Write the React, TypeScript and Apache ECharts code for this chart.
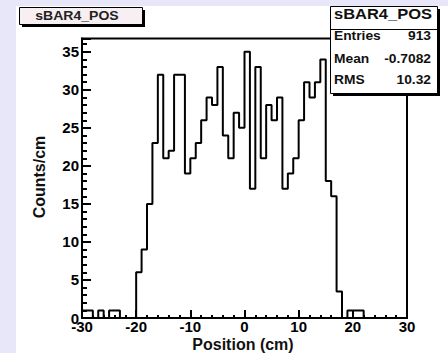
import { useEffect, useRef } from 'react';
import * as echarts from 'echarts';

// ---- data ----
const histName = 'sBAR4_POS';
const binLow = -30;
const binWidth = 1;
// counts per 1 cm bin, from -30 to +30
const counts = [
  1, 1, 0, 1, 0, 1, 1, 0, 0, 0,
  6, 9, 15, 23, 32, 21, 22, 32, 32, 19,
  21, 23, 26, 29, 28, 33, 24, 21, 27, 25,
  35, 17, 33, 21, 28, 26, 29, 17, 19, 21,
  26, 31, 29, 31, 34, 18, 16, 3.5, 0, 1,
  1, 1, 0, 0, 0, 0, 0, 0, 0, 0,
];
const xRange = [-30, 30];
const xTickStep = 10;
const yTickStep = 5;
const yMax = 36.75;
const statLabels = ['Entries', 'Mean', 'RMS'];
const statValues = ['913', '-0.7082', '10.32'];
const xTitle = 'Position (cm)';
const yTitle = 'Counts/cm';

const FONT = 'Liberation Sans, Arial, Helvetica, sans-serif';
const LAV = '#e7e7f9';

export default function App() {
  const ref = useRef<HTMLDivElement>(null);

  useEffect(() => {
    if (!ref.current) return;
    const chart = echarts.init(ref.current, undefined, { renderer: 'svg' });

    const stepPoints: number[][] = [[binLow, 0]];
    counts.forEach((c, i) => stepPoints.push([binLow + i * binWidth, c]));
    const xEnd = binLow + counts.length * binWidth;
    stepPoints.push([xEnd, counts[counts.length - 1]]);
    stepPoints.push([xEnd, 0]);

    const black = '#000';
    const statRowsY = [36, 59, 80];

    const graphic: any[] = [
      { type: 'rect', z: 200, shape: { x: 0, y: 0, width: 448, height: 6 }, style: { fill: LAV } },
      { type: 'rect', z: 200, shape: { x: 0, y: 0, width: 16, height: 353 }, style: { fill: LAV } },
      // title box
      { type: 'rect', z: 100, shape: { x: 22, y: 10, width: 123, height: 17 }, style: { fill: black } },
      { type: 'rect', z: 101, shape: { x: 19.5, y: 7.5, width: 123, height: 17 }, style: { fill: '#f7eff1', stroke: black, lineWidth: 1 } },
      {
        type: 'text', z: 102, x: 77, y: 16, scaleX: 1.17,
        style: { text: histName, fontSize: 12, fontWeight: 'bold', fontFamily: FONT, fill: '#222', align: 'center', verticalAlign: 'middle' },
      },
      // stats box
      { type: 'rect', z: 100, shape: { x: 333, y: 9, width: 107, height: 87 }, style: { fill: black } },
      { type: 'rect', z: 101, shape: { x: 330.5, y: 6.5, width: 107, height: 87 }, style: { fill: '#fff', stroke: black, lineWidth: 1 } },
      { type: 'line', z: 102, shape: { x1: 330.5, y1: 29.5, x2: 437.5, y2: 29.5 }, style: { stroke: black, lineWidth: 1 } },
      {
        type: 'text', z: 102, x: 383, y: 14, scaleX: 1.1,
        style: { text: histName, fontSize: 15, fontWeight: 'bold', fontFamily: FONT, fill: '#111', align: 'center', verticalAlign: 'middle' },
      },
      // axis titles
      {
        type: 'text', z: 50, x: 243, y: 344,
        style: { text: xTitle, fontSize: 16, fontWeight: 'bold', fontFamily: FONT, fill: '#111', align: 'center', verticalAlign: 'middle' },
      },
      {
        type: 'text', z: 50, x: 39, y: 177, rotation: Math.PI / 2,
        style: { text: yTitle, fontSize: 16, fontWeight: 'bold', fontFamily: FONT, fill: '#111', align: 'center', verticalAlign: 'middle' },
      },
    ];
    statLabels.forEach((lab, i) => {
      graphic.push({
        type: 'text', z: 102, x: 334, y: statRowsY[i], scaleX: 1.15,
        style: { text: lab, fontSize: 12, fontWeight: 'bold', fontFamily: FONT, fill: '#111', align: 'left', verticalAlign: 'middle' },
      });
      graphic.push({
        type: 'text', z: 102, x: 431, y: statRowsY[i], scaleX: 1.15,
        style: { text: statValues[i], fontSize: 12, fontWeight: 'bold', fontFamily: FONT, fill: '#111', align: 'right', verticalAlign: 'middle' },
      });
    });

    const option: any = {
      animation: false,
      backgroundColor: '#ffffff',
      grid: {
        left: 82, top: 38.5, width: 325, height: 279.5,
        show: true, borderColor: black, borderWidth: 2, backgroundColor: 'transparent',
        containLabel: false, outerBoundsMode: 'none',
      },
      xAxis: {
        type: 'value', min: xRange[0], max: xRange[1], interval: xTickStep, position: 'bottom',
        axisLine: { show: true, onZero: false, lineStyle: { color: black, width: 2 } },
        axisTick: { show: true, inside: true, length: 8, lineStyle: { color: black, width: 2 } },
        minorTick: { show: true, splitNumber: 5, length: 3, lineStyle: { color: black, width: 2 } },
        splitLine: { show: false },
        minorSplitLine: { show: false },
        axisLabel: { color: black, fontSize: 15, fontWeight: 'bold', fontFamily: FONT, margin: 1 },
      },
      yAxis: [
        {
          type: 'value', min: 0, max: yMax, interval: yTickStep, position: 'left',
          axisLine: { show: true, onZero: false, lineStyle: { color: black, width: 2 } },
          axisTick: { show: true, inside: true, length: 9, lineStyle: { color: black, width: 2 } },
          splitLine: { show: false },
          axisLabel: {
            color: black, fontSize: 15, fontWeight: 'bold', fontFamily: FONT, margin: 3,
            formatter: (v: number) => (Math.abs(v % yTickStep) < 1e-9 ? String(v) : ''),
          },
        },
        {
          type: 'value', min: 0, max: yMax, interval: 1, position: 'left', offset: 0,
          axisLine: { show: false, onZero: false },
          axisTick: { show: true, inside: true, length: 5, lineStyle: { color: black, width: 2 } },
          splitLine: { show: false },
          axisLabel: { show: false },
        },
      ],
      series: [
        {
          type: 'line', xAxisIndex: 0, yAxisIndex: 0, data: stepPoints, step: 'end',
          showSymbol: false, symbol: 'none', z: 3,
          lineStyle: { color: black, width: 2 },
        },
      ],
      graphic,
    };

    chart.setOption(option);
    return () => chart.dispose();
  }, []);

  return (
    <div
      ref={ref}
      style={{ position: 'fixed', left: 0, top: 0, width: 448, height: 353 }}
    />
  );
}
